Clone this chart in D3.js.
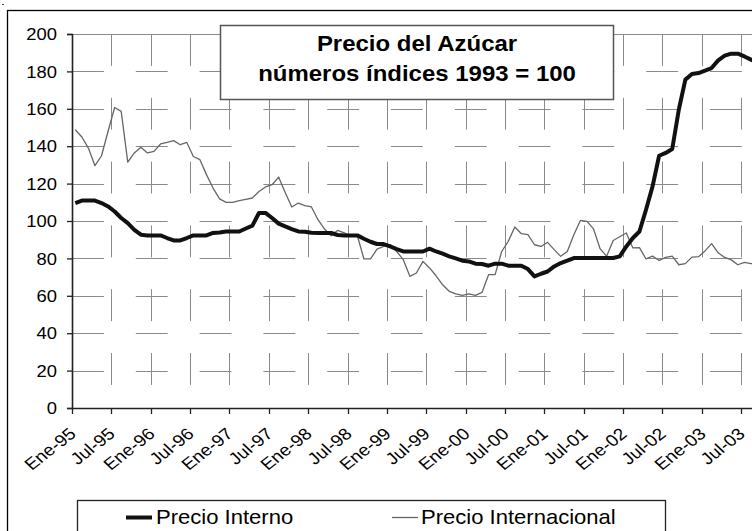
<!DOCTYPE html>
<html>
<head>
<meta charset="utf-8">
<script src="https://cdn.jsdelivr.net/npm/d3@7/dist/d3.min.js"></script>
<style>
  body { margin: 0; background: #fff; }
  svg { display: block; }
  text { font-family: "Liberation Sans", Arial, sans-serif; fill: #000; }
</style>
</head>
<body>
<svg id="chart" width="752" height="531"></svg>
<script>
// Monthly categories, Ene-95 .. Sep-03
const monthNames = ["Ene", "Feb", "Mar", "Abr", "May", "Jun", "Jul", "Ago", "Sep", "Oct", "Nov", "Dic"];
const years = ["95", "96", "97", "98", "99", "00", "01", "02", "03"];
const categories = years.flatMap(y => monthNames.map(m => `${m}-${y}`)).slice(0, 105);

// Índices (1993 = 100)
const precioInterno = [
  109.6, 110.9, 110.9, 110.9, 109.6, 107.8, 105.1, 101.6, 98.9, 95.3, 92.7, 92.3,
  92.3, 92.3, 90.9, 89.6, 89.6, 90.9, 92.3, 92.3, 92.3, 93.6, 93.9, 94.4,
  94.4, 94.4, 96.0, 97.5, 104.3, 104.3, 101.6, 98.6, 97.1, 95.7, 94.4, 94.3,
  93.7, 93.6, 93.6, 93.6, 92.5, 92.3, 92.3, 92.3, 90.5, 88.9, 87.7, 87.7,
  86.4, 85.0, 83.7, 83.7, 83.7, 83.7, 85.2, 83.7, 82.5, 81.1, 80.0, 78.8,
  78.4, 77.2, 77.0, 76.1, 77.2, 77.2, 76.1, 76.1, 76.1, 74.3, 70.4, 71.8,
  73.0, 75.7, 77.5, 78.8, 80.2, 80.2, 80.2, 80.2, 80.2, 80.2, 80.2, 81.1,
  86.4, 90.9, 94.4, 106.0, 118.5, 134.9, 136.4, 138.5, 159.5, 175.6, 178.6, 179.1,
  180.4, 181.8, 185.9, 188.4, 189.5, 189.5, 188.0, 186.3, 185.0
];
const precioInternacional = [
  148.8, 144.9, 139.0, 129.6, 134.9, 148.0, 160.7, 158.6, 131.5, 136.4, 139.4, 136.4,
  137.2, 141.2, 142.0, 143.0, 140.8, 142.0, 134.5, 132.8, 124.8, 117.6, 111.8, 110.0,
  110.0, 110.9, 111.6, 112.3, 115.8, 118.2, 119.4, 123.5, 115.3, 107.5, 109.6, 108.2,
  107.5, 100.7, 95.7, 92.1, 95.0, 93.6, 92.1, 92.1, 79.7, 79.7, 85.0, 86.4,
  87.3, 83.7, 79.3, 70.4, 72.2, 78.4, 74.9, 70.7, 65.9, 62.4, 61.0, 60.2,
  61.0, 60.2, 61.8, 71.3, 71.3, 83.7, 89.1, 96.8, 93.2, 92.7, 87.3, 86.4,
  88.6, 84.7, 81.1, 83.7, 92.7, 100.3, 99.8, 95.8, 85.2, 81.2, 89.6, 91.6,
  93.6, 85.6, 85.8, 79.7, 81.2, 78.9, 80.5, 81.2, 76.6, 77.2, 80.7, 80.9,
  84.0, 87.9, 83.0, 80.5, 79.2, 76.6, 77.9, 77.2, 77.5
];

const yTicks = [0, 20, 40, 60, 80, 100, 120, 140, 160, 180, 200];
const xTickLabels = ["Ene-95", "Jul-95", "Ene-96", "Jul-96", "Ene-97", "Jul-97", "Ene-98", "Jul-98",
  "Ene-99", "Jul-99", "Ene-00", "Jul-00", "Ene-01", "Jul-01", "Ene-02", "Jul-02", "Ene-03", "Jul-03"];

const titleLines = ["Precio del Azúcar", "números índices 1993 = 100"];
const seriesNames = ["Precio Interno", "Precio Internacional"];

(function draw() {
  const svg = d3.select("#chart");
  const plotLeft = 72, plotTop = 34, plotBottom = 408;
  const step = 6.56;
  const plotRight = plotLeft + categories.length * step;

  const x = d3.scaleBand().domain(categories).range([plotLeft, plotRight]).padding(0);
  const y = d3.scaleLinear().domain([0, 200]).range([plotBottom, plotTop]);
  const cx = c => x(c) + x.bandwidth() / 2;

  // outer chart frame
  svg.append("rect").attr("x", 7.5).attr("y", 10.5).attr("width", 800).attr("height", 560)
    .attr("fill", "#fff").attr("stroke", "#000").attr("stroke-width", 1.3);
  svg.append("rect").attr("x", 2).attr("y", 4).attr("width", 2).attr("height", 1).attr("fill", "#444");

  const grid = svg.append("g").attr("stroke", "#8a8a8a").attr("stroke-width", 1).attr("fill", "none");
  // horizontal gridlines (dashed), top one solid
  yTicks.filter(v => v > 0 && v < 200).forEach(v => {
    const yp = Math.round(y(v)) + 0.5;
    grid.append("line").attr("x1", plotLeft).attr("x2", plotRight).attr("y1", yp).attr("y2", yp)
      .attr("stroke-dasharray", "31.9,31.9");
  });
  const yTop = Math.round(y(200)) + 0.5;
  grid.append("line").attr("x1", plotLeft).attr("x2", plotRight).attr("y1", yTop).attr("y2", yTop);

  // vertical gridlines at the semester ticks
  xTickLabels.forEach((lab, k) => {
    if (k === 0) return;
    const xp = Math.round(x(lab)) + 0.5;
    grid.append("line").attr("x1", xp).attr("x2", xp).attr("y1", y(200)).attr("y2", plotBottom)
      .attr("stroke-dasharray", "31.9,31.9");
  });

  // axes
  const yAxis = d3.axisLeft(y).tickValues(yTicks).tickSize(5).tickFormat(d3.format("d"));
  const gy = svg.append("g").attr("transform", `translate(${plotLeft},0)`).call(yAxis);
  gy.select(".domain").attr("stroke", "#222").attr("stroke-width", 1.6);
  gy.selectAll(".tick line").attr("stroke", "#222").attr("stroke-width", 1.3);
  gy.selectAll(".tick text").remove();
  gy.selectAll(".tick").append("text")
    .attr("transform", "translate(-15,0) scale(1.15,1)")
    .attr("text-anchor", "end").attr("dy", "0.36em")
    .style("font-size", "16px")
    .text(d => d);

  const xAxis = d3.axisBottom(x).tickValues(xTickLabels).tickSize(6).tickFormat("");
  const gx = svg.append("g").attr("transform", `translate(0,${plotBottom})`).call(xAxis);
  gx.selectAll(".tick").attr("transform", d => `translate(${Math.round(x(d)) + 0.5},0)`);
  gx.select(".domain").attr("d", `M${plotLeft},0.5H${plotRight}`).attr("stroke", "#222").attr("stroke-width", 1.6);
  gx.selectAll(".tick line").attr("stroke", "#222").attr("stroke-width", 1.3);
  gx.selectAll(".tick text").remove();
  gx.selectAll(".tick").append("text")
    .attr("transform", "translate(0,23) scale(1.15,1) rotate(-42)")
    .attr("text-anchor", "end").attr("dy", "0.36em")
    .style("font-size", "16.5px")
    .text(d => d);

  // series
  const line = d3.line().x((d, i) => cx(categories[i])).y(d => y(d));
  svg.append("path").datum(precioInternacional).attr("d", line)
    .attr("fill", "none").attr("stroke", "#666").attr("stroke-width", 1.3).attr("stroke-linejoin", "round");
  svg.append("path").datum(precioInterno).attr("d", line)
    .attr("fill", "none").attr("stroke", "#111").attr("stroke-width", 4).attr("stroke-linejoin", "round");

  // title box
  svg.append("rect").attr("x", 220.5).attr("y", 25.5).attr("width", 393).attr("height", 74)
    .attr("fill", "#fff").attr("stroke", "#555").attr("stroke-width", 1.5);
  titleLines.forEach((t, i) => {
    svg.append("text")
      .attr("transform", `translate(417,${51 + i * 30}) scale(1.09,1)`)
      .attr("text-anchor", "middle")
      .style("font-size", "22px").style("font-weight", "bold")
      .text(t);
  });

  // legend
  svg.append("rect").attr("x", 77.5).attr("y", 500.5).attr("width", 588).attr("height", 60)
    .attr("fill", "#fff").attr("stroke", "#222").attr("stroke-width", 1.3);
  const legendItems = [
    { name: seriesNames[0], x1: 126, x2: 152, tx: 156, color: "#111", w: 4 },
    { name: seriesNames[1], x1: 392, x2: 418, tx: 421, color: "#666", w: 1.3 }
  ];
  legendItems.forEach(it => {
    svg.append("line").attr("x1", it.x1).attr("x2", it.x2).attr("y1", 517.5).attr("y2", 517.5)
      .attr("stroke", it.color).attr("stroke-width", it.w);
    svg.append("text").attr("transform", `translate(${it.tx},524) scale(1.05,1)`)
      .style("font-size", "21px").text(it.name);
  });
})();
</script>
</body>
</html>
